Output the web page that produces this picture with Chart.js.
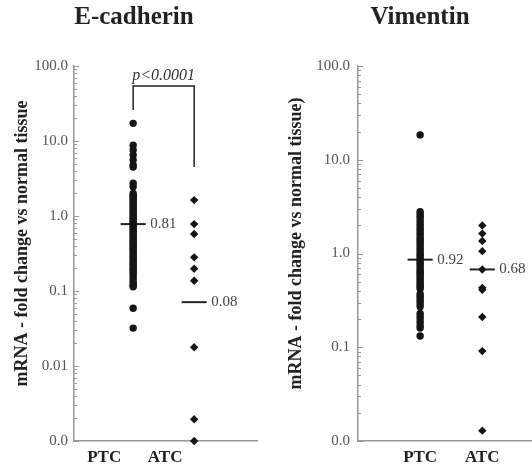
<!DOCTYPE html>
<html>
<head>
<meta charset="utf-8">
<script src="https://cdn.jsdelivr.net/npm/chart.js@4"></script>
<style>
  body { margin: 0; background: #fff; width: 532px; height: 472px; position: relative; overflow: hidden; }
  #ecad { position: absolute; left: 0; top: 0; }
  #vim { position: absolute; left: 270px; top: 0; }
</style>
</head>
<body>
<canvas id="ecad" width="268" height="472"></canvas>
<canvas id="vim" width="262" height="472"></canvas>
<script>
const categories = ["PTC", "ATC"];

// E-cadherin, fold change vs normal tissue
const ecadPTC = [17.2, 8.8, 7.6, 6.5, 5.6, 4.8, 4.5, 2.73, 2.46,
  2.0, 1.9, 1.82, 1.75, 1.66, 1.58, 1.5, 1.42, 1.35, 1.28, 1.21, 1.15, 1.1, 1.04,
  0.98, 0.93, 0.88, 0.84, 0.8, 0.76, 0.72, 0.69, 0.65, 0.62, 0.59, 0.56, 0.53, 0.5,
  0.47, 0.45, 0.43, 0.41, 0.39, 0.37, 0.35, 0.33, 0.31, 0.29, 0.275, 0.26, 0.245,
  0.23, 0.22, 0.205, 0.195, 0.185, 0.175, 0.162, 0.148, 0.135, 0.125, 0.118, 0.114,
  0.059, 0.032];
const ecadATC = [1.63, 0.78, 0.575, 0.281, 0.198, 0.137, 0.0178, 0.00195, 0.001];
const ecadMedians = [0.78, 0.071];
const ecadMedianLabels = ["0.81", "0.08"];
const ecadTicks = [0.001, 0.01, 0.1, 1, 10, 100];
const ecadTickLabels = ["0.0", "0.01", "0.1", "1.0", "10.0", "100.0"];

// Vimentin
const vimPTC = [18.4, 2.8, 2.65, 2.5, 2.35, 2.2, 2.05, 1.92, 1.8, 1.7, 1.6, 1.5, 1.42,
  1.34, 1.27, 1.2, 1.13, 1.07, 1.01, 0.96, 0.91, 0.86, 0.82, 0.78, 0.74, 0.7, 0.66,
  0.63, 0.6, 0.57, 0.54, 0.51, 0.485, 0.46, 0.44, 0.42, 0.37, 0.35, 0.33, 0.31, 0.29,
  0.27, 0.23, 0.215, 0.2, 0.185, 0.17, 0.16, 0.132];
const vimATC = [1.99, 1.63, 1.36, 1.06, 0.676, 0.43, 0.41, 0.21, 0.091, 0.0129];
const vimMedians = [0.86, 0.676];
const vimMedianLabels = ["0.92", "0.68"];
const vimTicks = [0.01, 0.1, 1, 10, 100];
const vimTickLabels = ["0.0", "0.1", "1.0", "10.0", "100.0"];

const serif = "'Liberation Serif', 'Times New Roman', serif";
const axisGrey = "#999";
const dotColor = "#151515";

// small inside tick marks on the log axis (decades long, 2..9 short)
const minorTicks = {
  id: "minorTicks",
  afterDraw(chart) {
    const y = chart.scales.y;
    const ctx = chart.ctx;
    const left = chart.chartArea.left;
    ctx.save();
    ctx.strokeStyle = axisGrey;
    ctx.lineWidth = 1;
    const e0 = Math.round(Math.log10(y.min));
    const e1 = Math.round(Math.log10(y.max));
    for (let e = e0; e <= e1; e++) {
      for (let k = 1; k <= 9; k++) {
        const v = k * Math.pow(10, e);
        if (v > y.max * 1.0001) break;
        const py = Math.round(y.getPixelForValue(v)) + 0.5;
        ctx.beginPath();
        ctx.moveTo(left, py);
        ctx.lineTo(left + (k === 1 ? 5 : 3), py);
        ctx.stroke();
      }
    }
    ctx.restore();
  }
};

// value labels next to the median bars, the p-value bracket, rotated axis title
const annotations = {
  id: "annotations",
  afterDatasetsDraw(chart, args, opts) {
    const ctx = chart.ctx;
    ctx.save();
    const meta = chart.getDatasetMeta(2);
    ctx.fillStyle = "#444";
    ctx.font = "15px " + serif;
    ctx.textAlign = "left";
    ctx.textBaseline = "middle";
    meta.data.forEach((pt, i) => {
      ctx.fillText(opts.labels[i], pt.x + 17, pt.y);
    });
    if (opts.bracket) {
      const b = opts.bracket;
      const xs = chart.scales.x, ys = chart.scales.y;
      const x1 = xs.getPixelForValue(1), x2 = xs.getPixelForValue(2);
      const top = ys.getPixelForValue(b.top);
      ctx.strokeStyle = "#222";
      ctx.lineWidth = 1.5;
      ctx.beginPath();
      ctx.moveTo(x1, ys.getPixelForValue(b.left));
      ctx.lineTo(x1, top);
      ctx.lineTo(x2, top);
      ctx.lineTo(x2, ys.getPixelForValue(b.right));
      ctx.stroke();
      ctx.fillStyle = "#333";
      ctx.font = "italic 16px " + serif;
      ctx.textAlign = "center";
      ctx.fillText(b.text, (x1 + x2) / 2, top - 10);
    }
    // y axis title
    const area = chart.chartArea;
    ctx.translate(opts.titleX, (area.top + area.bottom) / 2 - 10);
    ctx.rotate(-Math.PI / 2);
    ctx.fillStyle = "#222";
    ctx.font = "bold 18px " + serif;
    ctx.textAlign = "center";
    ctx.textBaseline = "middle";
    ctx.fillText(opts.yTitle, 0, 0);
    ctx.restore();
  }
};

function makeChart(id, cfg) {
  const pts = (arr, x) => arr.map((v) => ({ x: x, y: v }));
  new Chart(document.getElementById(id), {
    type: "scatter",
    data: {
      datasets: [
        {
          data: pts(cfg.ptc, 1),
          backgroundColor: dotColor,
          borderWidth: 0,
          pointRadius: 3.7,
          clip: false
        },
        {
          data: pts(cfg.atc, 2),
          backgroundColor: dotColor,
          borderWidth: 0,
          pointStyle: "rectRot",
          pointRadius: 4.2,
          clip: false
        },
        {
          data: cfg.medians.map((v, i) => ({ x: i + 1, y: v })),
          pointStyle: "line",
          pointRadius: 12.5,
          borderColor: "#222",
          borderWidth: 2,
          clip: false
        }
      ]
    },
    options: {
      responsive: false,
      animation: false,
      layout: {
        autoPadding: false,
        padding: { left: cfg.padLeft, right: cfg.padRight, top: 0, bottom: 0 }
      },
      plugins: {
        legend: { display: false },
        tooltip: { enabled: false },
        title: {
          display: true,
          text: cfg.title,
          color: "#222",
          font: { family: serif, size: 25, weight: "bold" },
          padding: { top: 3, bottom: 33 }
        },
        annotations: {
          labels: cfg.medianLabels,
          bracket: cfg.bracket,
          yTitle: cfg.yTitle,
          titleX: cfg.titleX
        }
      },
      scales: {
        x: {
          type: "linear",
          min: cfg.xMin,
          max: cfg.xMax,
          grid: { display: false, drawTicks: false },
          border: { color: axisGrey, width: 1.5 },
          afterBuildTicks: (scale) => {
            scale.ticks = categories.map((c, i) => ({ value: i + 1 }));
          },
          afterFit: (scale) => { scale.height = 31; },
          ticks: {
            padding: 6,
            labelOffset: cfg.labelOffset,
            color: "#222",
            font: { family: serif, size: 17, weight: "bold" },
            callback: (v, i) => categories[i]
          }
        },
        y: {
          type: "logarithmic",
          min: cfg.ticks[0],
          max: cfg.ticks[cfg.ticks.length - 1],
          grid: { display: false, drawTicks: false },
          border: { color: axisGrey, width: 1.5 },
          afterBuildTicks: (scale) => {
            scale.ticks = cfg.ticks.map((v) => ({ value: v }));
          },
          afterFit: (scale) => { scale.width = cfg.yWidth; },
          ticks: {
            padding: cfg.tickPad,
            color: "#555",
            font: { family: serif, size: 15 },
            callback: (v, i) => cfg.tickLabels[i]
          }
        }
      }
    },
    plugins: [minorTicks, annotations]
  });
}

makeChart("ecad", {
  title: "E-cadherin",
  yTitle: "mRNA - fold change vs normal tissue",
  ptc: ecadPTC, atc: ecadATC,
  medians: ecadMedians, medianLabels: ecadMedianLabels,
  ticks: ecadTicks, tickLabels: ecadTickLabels,
  bracket: { text: "p<0.0001", left: 26, top: 54, right: 4.5 },
  padLeft: 11, padRight: 11, yWidth: 63, tickPad: 6, titleX: 22,
  xMin: 0.03, xMax: 3.03, labelOffset: -29
});

makeChart("vim", {
  title: "Vimentin",
  yTitle: "mRNA - fold change vs normal tissue)",
  ptc: vimPTC, atc: vimATC,
  medians: vimMedians, medianLabels: vimMedianLabels,
  ticks: vimTicks, tickLabels: vimTickLabels,
  bracket: null,
  padLeft: 38, padRight: 0, yWidth: 50, tickPad: 8, titleX: 26,
  xMin: 0, xMax: 2.8, labelOffset: 0
});
</script>
</body>
</html>
